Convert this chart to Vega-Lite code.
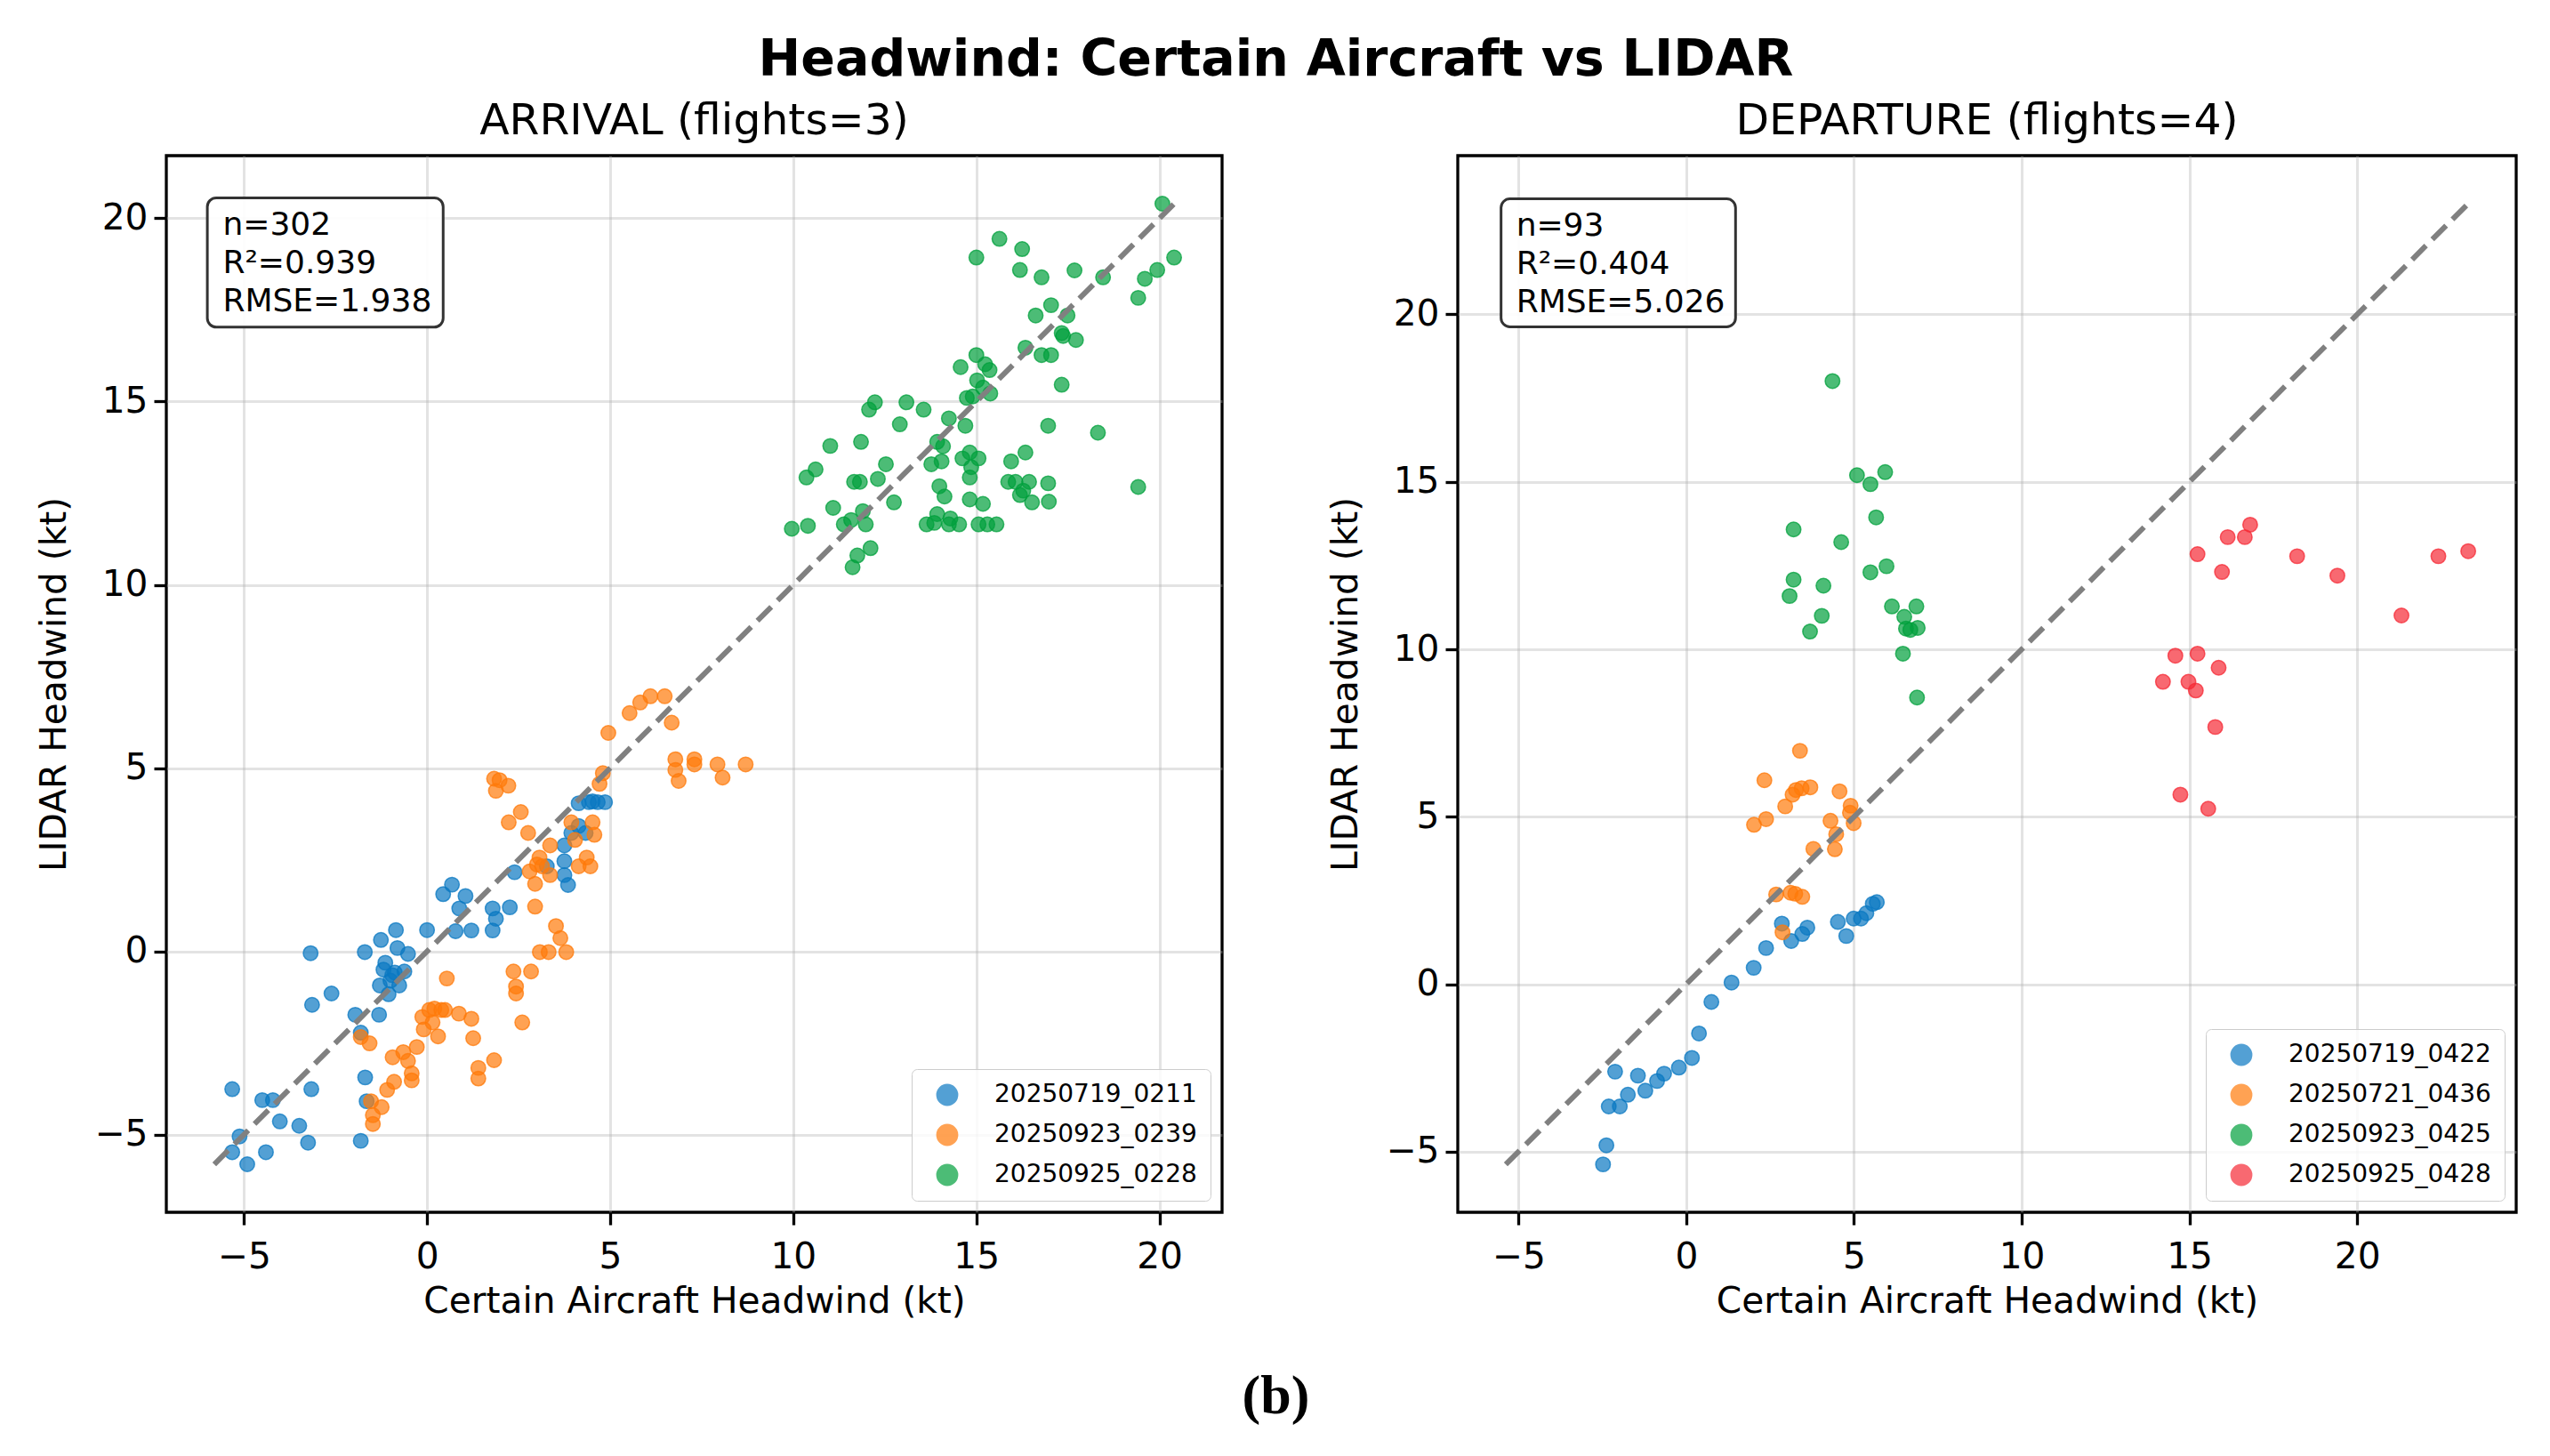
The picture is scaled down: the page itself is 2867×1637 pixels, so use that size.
{
  "$schema": "https://vega.github.io/schema/vega-lite/v6.json",
  "background": "white",
  "padding": {"left": 38, "top": 38, "right": 0, "bottom": 0},
  "config": {
    "font": "DejaVu Sans",
    "view": {"stroke": "black", "strokeWidth": 3.3},
    "axis": {"domain": false, "grid": true, "gridColor": "#b0b0b0", "gridOpacity": 0.35, "gridWidth": 3, "tickColor": "black", "tickSize": 14, "tickWidth": 3.3, "labelFontSize": 40.7, "labelColor": "black", "titleFontSize": 40.7, "titleFontWeight": "normal", "titleColor": "black", "labelFlush": false, "labelOverlap": false},
    "axisX": {"labelPadding": 16, "titlePadding": 11},
    "axisY": {"labelPadding": 7, "titlePadding": 24},
    "title": {"fontSize": 48.8, "fontWeight": "normal", "color": "black", "offset": 14},
    "legend": {"labelLimit": 0}
  },
  "datasets": {
    "arrival": [
      {"flight": "20250719_0211", "ac": -5.32, "lidar": -3.76},
      {"flight": "20250719_0211", "ac": -4.5, "lidar": -4.06},
      {"flight": "20250719_0211", "ac": -4.21, "lidar": -4.06},
      {"flight": "20250719_0211", "ac": -3.16, "lidar": -3.76},
      {"flight": "20250719_0211", "ac": -4.02, "lidar": -4.64},
      {"flight": "20250719_0211", "ac": -3.49, "lidar": -4.76},
      {"flight": "20250719_0211", "ac": -3.25, "lidar": -5.22},
      {"flight": "20250719_0211", "ac": -5.12, "lidar": -5.05},
      {"flight": "20250719_0211", "ac": -5.32, "lidar": -5.48},
      {"flight": "20250719_0211", "ac": -4.4, "lidar": -5.48},
      {"flight": "20250719_0211", "ac": -4.91, "lidar": -5.81},
      {"flight": "20250719_0211", "ac": -1.81, "lidar": -5.17},
      {"flight": "20250719_0211", "ac": -1.69, "lidar": -3.44},
      {"flight": "20250719_0211", "ac": -1.65, "lidar": -4.09},
      {"flight": "20250719_0211", "ac": -3.18, "lidar": -0.05},
      {"flight": "20250719_0211", "ac": -3.14, "lidar": -1.46},
      {"flight": "20250719_0211", "ac": -2.61, "lidar": -1.15},
      {"flight": "20250719_0211", "ac": -1.96, "lidar": -1.73},
      {"flight": "20250719_0211", "ac": -1.81, "lidar": -2.22},
      {"flight": "20250719_0211", "ac": -1.31, "lidar": -1.73},
      {"flight": "20250719_0211", "ac": -1.7, "lidar": -0.02},
      {"flight": "20250719_0211", "ac": -1.26, "lidar": 0.31},
      {"flight": "20250719_0211", "ac": -0.85, "lidar": 0.58},
      {"flight": "20250719_0211", "ac": -0.81, "lidar": 0.09},
      {"flight": "20250719_0211", "ac": -0.52, "lidar": -0.07},
      {"flight": "20250719_0211", "ac": -1.14, "lidar": -0.31},
      {"flight": "20250719_0211", "ac": -1.19, "lidar": -0.5},
      {"flight": "20250719_0211", "ac": -1.29, "lidar": -0.93},
      {"flight": "20250719_0211", "ac": -1.05, "lidar": -1.17},
      {"flight": "20250719_0211", "ac": -0.76, "lidar": -0.93},
      {"flight": "20250719_0211", "ac": -0.62, "lidar": -0.55},
      {"flight": "20250719_0211", "ac": -0.95, "lidar": -0.65},
      {"flight": "20250719_0211", "ac": -1.0, "lidar": -0.8},
      {"flight": "20250719_0211", "ac": -0.88, "lidar": -0.58},
      {"flight": "20250719_0211", "ac": 0.0, "lidar": 0.58},
      {"flight": "20250719_0211", "ac": 0.44, "lidar": 1.56},
      {"flight": "20250719_0211", "ac": 0.68, "lidar": 1.82},
      {"flight": "20250719_0211", "ac": 1.05, "lidar": 1.51},
      {"flight": "20250719_0211", "ac": 0.88, "lidar": 1.17},
      {"flight": "20250719_0211", "ac": 0.78, "lidar": 0.55},
      {"flight": "20250719_0211", "ac": 1.21, "lidar": 0.57},
      {"flight": "20250719_0211", "ac": 1.79, "lidar": 1.17},
      {"flight": "20250719_0211", "ac": 1.88, "lidar": 0.89},
      {"flight": "20250719_0211", "ac": 1.79, "lidar": 0.57},
      {"flight": "20250719_0211", "ac": 2.26, "lidar": 1.2},
      {"flight": "20250719_0211", "ac": 2.39, "lidar": 2.16},
      {"flight": "20250719_0211", "ac": 3.27, "lidar": 2.32},
      {"flight": "20250719_0211", "ac": 3.75, "lidar": 2.46},
      {"flight": "20250719_0211", "ac": 3.75, "lidar": 2.08},
      {"flight": "20250719_0211", "ac": 3.85, "lidar": 1.81},
      {"flight": "20250719_0211", "ac": 3.75, "lidar": 2.89},
      {"flight": "20250719_0211", "ac": 3.94, "lidar": 3.23},
      {"flight": "20250719_0211", "ac": 4.14, "lidar": 3.42},
      {"flight": "20250719_0211", "ac": 4.33, "lidar": 3.23},
      {"flight": "20250719_0211", "ac": 4.14, "lidar": 4.04},
      {"flight": "20250719_0211", "ac": 4.42, "lidar": 4.07},
      {"flight": "20250719_0211", "ac": 4.66, "lidar": 4.07},
      {"flight": "20250719_0211", "ac": 4.86, "lidar": 4.07},
      {"flight": "20250719_0211", "ac": 4.52, "lidar": 4.09},
      {"flight": "20250923_0239", "ac": -1.81, "lidar": -2.34},
      {"flight": "20250923_0239", "ac": -1.57, "lidar": -2.51},
      {"flight": "20250923_0239", "ac": -1.53, "lidar": -4.09},
      {"flight": "20250923_0239", "ac": -1.24, "lidar": -4.25},
      {"flight": "20250923_0239", "ac": -1.48, "lidar": -4.47},
      {"flight": "20250923_0239", "ac": -1.48, "lidar": -4.71},
      {"flight": "20250923_0239", "ac": -1.09, "lidar": -3.78},
      {"flight": "20250923_0239", "ac": -0.9, "lidar": -3.56},
      {"flight": "20250923_0239", "ac": -0.94, "lidar": -2.89},
      {"flight": "20250923_0239", "ac": -0.65, "lidar": -2.75},
      {"flight": "20250923_0239", "ac": -0.52, "lidar": -2.99},
      {"flight": "20250923_0239", "ac": -0.42, "lidar": -3.33},
      {"flight": "20250923_0239", "ac": -0.42, "lidar": -3.52},
      {"flight": "20250923_0239", "ac": -0.28, "lidar": -2.61},
      {"flight": "20250923_0239", "ac": -0.13, "lidar": -1.79},
      {"flight": "20250923_0239", "ac": 0.06, "lidar": -1.6},
      {"flight": "20250923_0239", "ac": 0.2, "lidar": -1.56},
      {"flight": "20250923_0239", "ac": 0.39, "lidar": -1.6},
      {"flight": "20250923_0239", "ac": 0.49, "lidar": -1.6},
      {"flight": "20250923_0239", "ac": 0.15, "lidar": -1.94},
      {"flight": "20250923_0239", "ac": 0.3, "lidar": -2.32},
      {"flight": "20250923_0239", "ac": -0.09, "lidar": -2.13},
      {"flight": "20250923_0239", "ac": 0.87, "lidar": -1.7},
      {"flight": "20250923_0239", "ac": 1.21, "lidar": -1.84},
      {"flight": "20250923_0239", "ac": 1.26, "lidar": -2.37},
      {"flight": "20250923_0239", "ac": 1.4, "lidar": -3.18},
      {"flight": "20250923_0239", "ac": 1.4, "lidar": -3.47},
      {"flight": "20250923_0239", "ac": 1.83, "lidar": -2.97},
      {"flight": "20250923_0239", "ac": 0.54, "lidar": -0.74},
      {"flight": "20250923_0239", "ac": 2.36, "lidar": -0.55},
      {"flight": "20250923_0239", "ac": 2.84, "lidar": -0.55},
      {"flight": "20250923_0239", "ac": 2.43, "lidar": -0.96},
      {"flight": "20250923_0239", "ac": 2.43, "lidar": -1.15},
      {"flight": "20250923_0239", "ac": 2.6, "lidar": -1.94},
      {"flight": "20250923_0239", "ac": 3.08, "lidar": -0.02},
      {"flight": "20250923_0239", "ac": 3.32, "lidar": -0.02},
      {"flight": "20250923_0239", "ac": 3.8, "lidar": -0.02},
      {"flight": "20250923_0239", "ac": 3.64, "lidar": 0.36},
      {"flight": "20250923_0239", "ac": 3.52, "lidar": 0.69},
      {"flight": "20250923_0239", "ac": 2.95, "lidar": 1.22},
      {"flight": "20250923_0239", "ac": 2.95, "lidar": 1.84},
      {"flight": "20250923_0239", "ac": 2.8, "lidar": 2.18},
      {"flight": "20250923_0239", "ac": 3.0, "lidar": 2.37},
      {"flight": "20250923_0239", "ac": 3.07, "lidar": 2.56},
      {"flight": "20250923_0239", "ac": 3.36, "lidar": 2.08},
      {"flight": "20250923_0239", "ac": 3.14, "lidar": 2.32},
      {"flight": "20250923_0239", "ac": 2.76, "lidar": 3.23},
      {"flight": "20250923_0239", "ac": 2.23, "lidar": 3.52},
      {"flight": "20250923_0239", "ac": 2.56, "lidar": 3.8},
      {"flight": "20250923_0239", "ac": 1.83, "lidar": 4.71},
      {"flight": "20250923_0239", "ac": 1.98, "lidar": 4.67},
      {"flight": "20250923_0239", "ac": 1.88, "lidar": 4.38},
      {"flight": "20250923_0239", "ac": 2.22, "lidar": 4.52},
      {"flight": "20250923_0239", "ac": 3.36, "lidar": 2.89},
      {"flight": "20250923_0239", "ac": 3.94, "lidar": 3.52},
      {"flight": "20250923_0239", "ac": 4.04, "lidar": 3.04},
      {"flight": "20250923_0239", "ac": 4.52, "lidar": 3.52},
      {"flight": "20250923_0239", "ac": 4.57, "lidar": 3.18},
      {"flight": "20250923_0239", "ac": 4.36, "lidar": 2.56},
      {"flight": "20250923_0239", "ac": 4.46, "lidar": 2.32},
      {"flight": "20250923_0239", "ac": 4.14, "lidar": 2.32},
      {"flight": "20250923_0239", "ac": 4.71, "lidar": 4.57},
      {"flight": "20250923_0239", "ac": 4.8, "lidar": 4.86},
      {"flight": "20250923_0239", "ac": 4.95, "lidar": 5.96},
      {"flight": "20250923_0239", "ac": 5.53, "lidar": 6.5},
      {"flight": "20250923_0239", "ac": 5.82, "lidar": 6.79},
      {"flight": "20250923_0239", "ac": 6.1, "lidar": 6.96},
      {"flight": "20250923_0239", "ac": 6.49, "lidar": 6.96},
      {"flight": "20250923_0239", "ac": 6.68, "lidar": 6.24},
      {"flight": "20250923_0239", "ac": 6.78, "lidar": 5.24},
      {"flight": "20250923_0239", "ac": 6.78, "lidar": 4.95},
      {"flight": "20250923_0239", "ac": 6.87, "lidar": 4.65},
      {"flight": "20250923_0239", "ac": 7.3, "lidar": 5.24},
      {"flight": "20250923_0239", "ac": 7.3, "lidar": 5.1},
      {"flight": "20250923_0239", "ac": 7.93, "lidar": 5.1},
      {"flight": "20250923_0239", "ac": 8.07, "lidar": 4.74},
      {"flight": "20250923_0239", "ac": 8.7, "lidar": 5.1},
      {"flight": "20250925_0228", "ac": 20.08, "lidar": 20.4},
      {"flight": "20250925_0228", "ac": 15.63, "lidar": 19.44},
      {"flight": "20250925_0228", "ac": 16.25, "lidar": 19.16},
      {"flight": "20250925_0228", "ac": 15.0, "lidar": 18.93},
      {"flight": "20250925_0228", "ac": 16.19, "lidar": 18.59},
      {"flight": "20250925_0228", "ac": 16.78, "lidar": 18.39},
      {"flight": "20250925_0228", "ac": 17.68, "lidar": 18.58},
      {"flight": "20250925_0228", "ac": 18.46, "lidar": 18.39},
      {"flight": "20250925_0228", "ac": 20.4, "lidar": 18.93},
      {"flight": "20250925_0228", "ac": 19.94, "lidar": 18.59},
      {"flight": "20250925_0228", "ac": 19.6, "lidar": 18.35},
      {"flight": "20250925_0228", "ac": 19.42, "lidar": 17.83},
      {"flight": "20250925_0228", "ac": 17.04, "lidar": 17.63},
      {"flight": "20250925_0228", "ac": 16.62, "lidar": 17.35},
      {"flight": "20250925_0228", "ac": 17.49, "lidar": 17.35},
      {"flight": "20250925_0228", "ac": 17.33, "lidar": 16.87},
      {"flight": "20250925_0228", "ac": 17.37, "lidar": 16.79},
      {"flight": "20250925_0228", "ac": 17.72, "lidar": 16.68},
      {"flight": "20250925_0228", "ac": 16.34, "lidar": 16.47},
      {"flight": "20250925_0228", "ac": 16.78, "lidar": 16.27},
      {"flight": "20250925_0228", "ac": 17.04, "lidar": 16.27},
      {"flight": "20250925_0228", "ac": 17.33, "lidar": 15.46},
      {"flight": "20250925_0228", "ac": 15.0, "lidar": 16.27},
      {"flight": "20250925_0228", "ac": 14.57, "lidar": 15.94},
      {"flight": "20250925_0228", "ac": 15.24, "lidar": 16.02},
      {"flight": "20250925_0228", "ac": 15.36, "lidar": 15.86},
      {"flight": "20250925_0228", "ac": 15.02, "lidar": 15.58},
      {"flight": "20250925_0228", "ac": 15.18, "lidar": 15.38},
      {"flight": "20250925_0228", "ac": 15.38, "lidar": 15.22},
      {"flight": "20250925_0228", "ac": 14.74, "lidar": 15.1},
      {"flight": "20250925_0228", "ac": 14.9, "lidar": 15.14},
      {"flight": "20250925_0228", "ac": 12.23, "lidar": 14.98},
      {"flight": "20250925_0228", "ac": 12.07, "lidar": 14.78},
      {"flight": "20250925_0228", "ac": 13.09, "lidar": 14.98},
      {"flight": "20250925_0228", "ac": 13.56, "lidar": 14.78},
      {"flight": "20250925_0228", "ac": 12.91, "lidar": 14.38},
      {"flight": "20250925_0228", "ac": 14.25, "lidar": 14.54},
      {"flight": "20250925_0228", "ac": 14.7, "lidar": 14.34},
      {"flight": "20250925_0228", "ac": 16.96, "lidar": 14.34},
      {"flight": "20250925_0228", "ac": 18.32, "lidar": 14.15},
      {"flight": "20250925_0228", "ac": 11.01, "lidar": 13.79},
      {"flight": "20250925_0228", "ac": 11.85, "lidar": 13.9},
      {"flight": "20250925_0228", "ac": 13.93, "lidar": 13.9},
      {"flight": "20250925_0228", "ac": 14.09, "lidar": 13.78},
      {"flight": "20250925_0228", "ac": 14.05, "lidar": 13.37},
      {"flight": "20250925_0228", "ac": 10.61, "lidar": 13.15},
      {"flight": "20250925_0228", "ac": 10.36, "lidar": 12.93},
      {"flight": "20250925_0228", "ac": 12.53, "lidar": 13.29},
      {"flight": "20250925_0228", "ac": 12.31, "lidar": 12.89},
      {"flight": "20250925_0228", "ac": 11.66, "lidar": 12.81},
      {"flight": "20250925_0228", "ac": 11.82, "lidar": 12.81},
      {"flight": "20250925_0228", "ac": 13.77, "lidar": 13.29},
      {"flight": "20250925_0228", "ac": 14.62, "lidar": 13.45},
      {"flight": "20250925_0228", "ac": 14.82, "lidar": 13.61},
      {"flight": "20250925_0228", "ac": 15.06, "lidar": 13.45},
      {"flight": "20250925_0228", "ac": 14.86, "lidar": 13.21},
      {"flight": "20250925_0228", "ac": 14.82, "lidar": 12.93},
      {"flight": "20250925_0228", "ac": 15.95, "lidar": 13.37},
      {"flight": "20250925_0228", "ac": 16.34, "lidar": 13.61},
      {"flight": "20250925_0228", "ac": 15.87, "lidar": 12.81},
      {"flight": "20250925_0228", "ac": 16.07, "lidar": 12.81},
      {"flight": "20250925_0228", "ac": 16.44, "lidar": 12.81},
      {"flight": "20250925_0228", "ac": 16.28, "lidar": 12.57},
      {"flight": "20250925_0228", "ac": 16.19, "lidar": 12.45},
      {"flight": "20250925_0228", "ac": 16.96, "lidar": 12.77},
      {"flight": "20250925_0228", "ac": 16.52, "lidar": 12.25},
      {"flight": "20250925_0228", "ac": 16.98, "lidar": 12.27},
      {"flight": "20250925_0228", "ac": 19.42, "lidar": 12.67},
      {"flight": "20250925_0228", "ac": 13.99, "lidar": 12.69},
      {"flight": "20250925_0228", "ac": 14.13, "lidar": 12.41},
      {"flight": "20250925_0228", "ac": 14.82, "lidar": 12.33},
      {"flight": "20250925_0228", "ac": 15.18, "lidar": 12.21},
      {"flight": "20250925_0228", "ac": 12.75, "lidar": 12.25},
      {"flight": "20250925_0228", "ac": 11.09, "lidar": 12.1},
      {"flight": "20250925_0228", "ac": 11.38, "lidar": 11.65},
      {"flight": "20250925_0228", "ac": 11.58, "lidar": 11.77},
      {"flight": "20250925_0228", "ac": 11.9, "lidar": 12.01},
      {"flight": "20250925_0228", "ac": 11.98, "lidar": 11.65},
      {"flight": "20250925_0228", "ac": 9.96, "lidar": 11.53},
      {"flight": "20250925_0228", "ac": 10.4, "lidar": 11.61},
      {"flight": "20250925_0228", "ac": 13.64, "lidar": 11.65},
      {"flight": "20250925_0228", "ac": 13.93, "lidar": 11.93},
      {"flight": "20250925_0228", "ac": 13.85, "lidar": 11.69},
      {"flight": "20250925_0228", "ac": 14.29, "lidar": 11.81},
      {"flight": "20250925_0228", "ac": 14.25, "lidar": 11.65},
      {"flight": "20250925_0228", "ac": 14.53, "lidar": 11.65},
      {"flight": "20250925_0228", "ac": 15.06, "lidar": 11.65},
      {"flight": "20250925_0228", "ac": 15.3, "lidar": 11.65},
      {"flight": "20250925_0228", "ac": 15.55, "lidar": 11.65},
      {"flight": "20250925_0228", "ac": 12.11, "lidar": 11.0},
      {"flight": "20250925_0228", "ac": 11.75, "lidar": 10.8},
      {"flight": "20250925_0228", "ac": 11.62, "lidar": 10.48}
    ],
    "arrival_ref": [{"v": -5.81}, {"v": 20.4}],
    "departure": [
      {"flight": "20250719_0422", "ac": 5.68, "lidar": 2.45},
      {"flight": "20250719_0422", "ac": 5.56, "lidar": 2.4},
      {"flight": "20250719_0422", "ac": 5.37, "lidar": 2.12},
      {"flight": "20250719_0422", "ac": 5.21, "lidar": 1.96},
      {"flight": "20250719_0422", "ac": 4.99, "lidar": 1.96},
      {"flight": "20250719_0422", "ac": 4.52, "lidar": 1.86},
      {"flight": "20250719_0422", "ac": 4.77, "lidar": 1.44},
      {"flight": "20250719_0422", "ac": 2.85, "lidar": 1.81},
      {"flight": "20250719_0422", "ac": 3.61, "lidar": 1.69},
      {"flight": "20250719_0422", "ac": 3.46, "lidar": 1.5},
      {"flight": "20250719_0422", "ac": 3.13, "lidar": 1.29},
      {"flight": "20250719_0422", "ac": 2.38, "lidar": 1.08},
      {"flight": "20250719_0422", "ac": 2.01, "lidar": 0.49},
      {"flight": "20250719_0422", "ac": 1.35, "lidar": 0.05},
      {"flight": "20250719_0422", "ac": 0.75, "lidar": -0.53},
      {"flight": "20250719_0422", "ac": 0.38, "lidar": -1.47},
      {"flight": "20250719_0422", "ac": 0.17, "lidar": -2.2},
      {"flight": "20250719_0422", "ac": -0.22, "lidar": -2.49},
      {"flight": "20250719_0422", "ac": -0.66, "lidar": -2.67},
      {"flight": "20250719_0422", "ac": -0.87, "lidar": -2.89},
      {"flight": "20250719_0422", "ac": -1.22, "lidar": -3.18},
      {"flight": "20250719_0422", "ac": -1.44, "lidar": -2.73},
      {"flight": "20250719_0422", "ac": -1.74, "lidar": -3.3},
      {"flight": "20250719_0422", "ac": -1.98, "lidar": -3.65},
      {"flight": "20250719_0422", "ac": -2.31, "lidar": -3.65},
      {"flight": "20250719_0422", "ac": -2.12, "lidar": -2.61},
      {"flight": "20250719_0422", "ac": -2.38, "lidar": -4.81},
      {"flight": "20250719_0422", "ac": -2.48, "lidar": -5.38},
      {"flight": "20250721_0436", "ac": 3.39, "lidar": 6.97},
      {"flight": "20250721_0436", "ac": 2.33, "lidar": 6.09},
      {"flight": "20250721_0436", "ac": 3.27, "lidar": 5.8},
      {"flight": "20250721_0436", "ac": 3.44, "lidar": 5.85},
      {"flight": "20250721_0436", "ac": 3.7, "lidar": 5.88},
      {"flight": "20250721_0436", "ac": 3.17, "lidar": 5.66},
      {"flight": "20250721_0436", "ac": 2.95, "lidar": 5.31},
      {"flight": "20250721_0436", "ac": 2.38, "lidar": 4.93},
      {"flight": "20250721_0436", "ac": 2.02, "lidar": 4.76},
      {"flight": "20250721_0436", "ac": 4.57, "lidar": 5.76},
      {"flight": "20250721_0436", "ac": 4.9, "lidar": 5.33},
      {"flight": "20250721_0436", "ac": 4.88, "lidar": 5.12},
      {"flight": "20250721_0436", "ac": 4.3, "lidar": 4.88},
      {"flight": "20250721_0436", "ac": 4.99, "lidar": 4.81},
      {"flight": "20250721_0436", "ac": 4.47, "lidar": 4.48},
      {"flight": "20250721_0436", "ac": 4.43, "lidar": 4.03},
      {"flight": "20250721_0436", "ac": 3.79, "lidar": 4.04},
      {"flight": "20250721_0436", "ac": 2.68, "lidar": 2.68},
      {"flight": "20250721_0436", "ac": 3.11, "lidar": 2.73},
      {"flight": "20250721_0436", "ac": 3.25, "lidar": 2.7},
      {"flight": "20250721_0436", "ac": 3.46, "lidar": 2.61},
      {"flight": "20250721_0436", "ac": 2.87, "lidar": 1.55},
      {"flight": "20250923_0425", "ac": 4.36, "lidar": 18.01},
      {"flight": "20250923_0425", "ac": 5.09, "lidar": 15.2},
      {"flight": "20250923_0425", "ac": 5.49, "lidar": 14.93},
      {"flight": "20250923_0425", "ac": 5.93, "lidar": 15.29},
      {"flight": "20250923_0425", "ac": 5.66, "lidar": 13.94},
      {"flight": "20250923_0425", "ac": 3.2, "lidar": 13.58},
      {"flight": "20250923_0425", "ac": 4.62, "lidar": 13.2},
      {"flight": "20250923_0425", "ac": 5.49, "lidar": 12.3},
      {"flight": "20250923_0425", "ac": 5.97, "lidar": 12.48},
      {"flight": "20250923_0425", "ac": 3.2, "lidar": 12.08},
      {"flight": "20250923_0425", "ac": 3.08, "lidar": 11.59},
      {"flight": "20250923_0425", "ac": 4.09, "lidar": 11.9},
      {"flight": "20250923_0425", "ac": 4.04, "lidar": 11.0},
      {"flight": "20250923_0425", "ac": 3.69, "lidar": 10.53},
      {"flight": "20250923_0425", "ac": 6.13, "lidar": 11.28},
      {"flight": "20250923_0425", "ac": 6.86, "lidar": 11.28},
      {"flight": "20250923_0425", "ac": 6.5, "lidar": 10.97},
      {"flight": "20250923_0425", "ac": 6.55, "lidar": 10.62},
      {"flight": "20250923_0425", "ac": 6.68, "lidar": 10.58},
      {"flight": "20250923_0425", "ac": 6.9, "lidar": 10.64},
      {"flight": "20250923_0425", "ac": 6.46, "lidar": 9.87},
      {"flight": "20250923_0425", "ac": 6.88, "lidar": 8.56},
      {"flight": "20250925_0428", "ac": 16.81, "lidar": 13.72},
      {"flight": "20250925_0428", "ac": 16.14, "lidar": 13.35},
      {"flight": "20250925_0428", "ac": 16.65, "lidar": 13.35},
      {"flight": "20250925_0428", "ac": 15.24, "lidar": 12.84},
      {"flight": "20250925_0428", "ac": 15.97, "lidar": 12.31},
      {"flight": "20250925_0428", "ac": 18.21, "lidar": 12.78},
      {"flight": "20250925_0428", "ac": 19.41, "lidar": 12.2},
      {"flight": "20250925_0428", "ac": 21.32, "lidar": 11.01},
      {"flight": "20250925_0428", "ac": 22.42, "lidar": 12.78},
      {"flight": "20250925_0428", "ac": 23.31, "lidar": 12.93},
      {"flight": "20250925_0428", "ac": 14.58, "lidar": 9.81},
      {"flight": "20250925_0428", "ac": 15.24, "lidar": 9.87},
      {"flight": "20250925_0428", "ac": 15.87, "lidar": 9.45},
      {"flight": "20250925_0428", "ac": 14.21, "lidar": 9.03},
      {"flight": "20250925_0428", "ac": 14.97, "lidar": 9.03},
      {"flight": "20250925_0428", "ac": 15.19, "lidar": 8.77},
      {"flight": "20250925_0428", "ac": 15.77, "lidar": 7.68},
      {"flight": "20250925_0428", "ac": 14.73, "lidar": 5.66},
      {"flight": "20250925_0428", "ac": 15.56, "lidar": 5.24}
    ],
    "departure_ref": [{"v": -5.38}, {"v": 23.31}]
  },
  "title": {"text": "(b)", "orient": "bottom", "anchor": "middle", "font": "Liberation Serif", "fontSize": 62, "fontWeight": "bold", "color": "black", "offset": 55},
  "vconcat": [
    {
      "title": {"text": "Headwind: Certain Aircraft vs LIDAR", "anchor": "middle", "fontSize": 57, "fontWeight": "bold", "color": "black", "offset": 14},
      "spacing": 114,
      "resolve": {"scale": {"color": "independent", "stroke": "independent", "x": "independent", "y": "independent"}, "legend": {"color": "independent"}},
      "hconcat": [
        {
          "width": 1187,
          "height": 1188,
          "title": {"text": "ARRIVAL (flights=3)", "anchor": "middle"},
          "layer": [
            {
              "data": {"name": "arrival"},
              "mark": {"type": "circle", "size": 270, "fillOpacity": 0.7, "strokeOpacity": 0.75, "strokeWidth": 1.5},
              "encoding": {
                "x": {"field": "ac", "type": "quantitative", "title": "Certain Aircraft Headwind (kt)", "scale": {"domain": [-7.12, 21.71], "nice": false, "zero": false}, "axis": {"values": [-5, 0, 5, 10, 15, 20]}},
                "y": {"field": "lidar", "type": "quantitative", "title": "LIDAR Headwind (kt)", "scale": {"domain": [-7.12, 21.71], "nice": false, "zero": false}, "axis": {"values": [-5, 0, 5, 10, 15, 20]}},
                "color": {"field": "flight", "type": "nominal", "scale": {"domain": ["20250719_0211", "20250923_0239", "20250925_0228"], "range": ["#0a78c2", "#ff7a0a", "#00a03c"]},
                  "legend": {"title": null, "orient": "bottom-right", "offset": 13, "padding": 15, "strokeColor": "#cccccc", "fillColor": "rgba(255,255,255,0.8)", "cornerRadius": 6, "symbolType": "circle", "symbolSize": 616, "symbolOpacity": 0.7, "symbolStrokeWidth": 0, "labelFontSize": 28, "labelColor": "black", "labelOffset": 39, "labelLimit": 0, "rowPadding": 17, "symbolOffset": 11}},
                "stroke": {"field": "flight", "type": "nominal", "scale": {"domain": ["20250719_0211", "20250923_0239", "20250925_0228"], "range": ["#0a78c2", "#ff7a0a", "#00a03c"]}, "legend": null}
              }
            },
            {
              "data": {"name": "arrival_ref"},
              "mark": {"type": "line", "color": "#808080", "strokeWidth": 6, "strokeDash": [22, 10]},
              "encoding": {
                "x": {"field": "v", "type": "quantitative", "title": "Certain Aircraft Headwind (kt)", "axis": {"values": [-5, 0, 5, 10, 15, 20]}},
                "y": {"field": "v", "type": "quantitative", "title": "LIDAR Headwind (kt)", "axis": {"values": [-5, 0, 5, 10, 15, 20]}}
              }
            },
            {
              "data": {"values": [{}]},
              "mark": {"type": "rect", "fill": "white", "fillOpacity": 0.9, "stroke": "#333333", "strokeWidth": 3, "cornerRadius": 10},
              "encoding": {
                "x": {"datum": -6.0, "type": "quantitative", "title": "Certain Aircraft Headwind (kt)", "axis": {"values": [-5, 0, 5, 10, 15, 20]}},
                "x2": {"datum": 0.44},
                "y": {"datum": 20.56, "type": "quantitative", "title": "LIDAR Headwind (kt)", "axis": {"values": [-5, 0, 5, 10, 15, 20]}},
                "y2": {"datum": 17.03}
              }
            },
            {
              "data": {"values": [{}]},
              "mark": {"type": "text", "text": ["n=302", "R²=0.939", "RMSE=1.938"], "align": "left", "baseline": "alphabetic", "fontSize": 36, "lineHeight": 43, "color": "black"},
              "encoding": {
                "x": {"datum": -5.58, "type": "quantitative", "title": "Certain Aircraft Headwind (kt)", "axis": {"values": [-5, 0, 5, 10, 15, 20]}},
                "y": {"datum": 19.54, "type": "quantitative", "title": "LIDAR Headwind (kt)", "axis": {"values": [-5, 0, 5, 10, 15, 20]}}
              }
            }
          ]
        },
        {
          "width": 1190,
          "height": 1188,
          "title": {"text": "DEPARTURE (flights=4)", "anchor": "middle"},
          "layer": [
            {
              "data": {"name": "departure"},
              "mark": {"type": "circle", "size": 270, "fillOpacity": 0.7, "strokeOpacity": 0.75, "strokeWidth": 1.5},
              "encoding": {
                "x": {"field": "ac", "type": "quantitative", "title": "Certain Aircraft Headwind (kt)", "scale": {"domain": [-6.81, 24.74], "nice": false, "zero": false}, "axis": {"values": [-5, 0, 5, 10, 15, 20]}},
                "y": {"field": "lidar", "type": "quantitative", "title": "LIDAR Headwind (kt)", "scale": {"domain": [-6.81, 24.74], "nice": false, "zero": false}, "axis": {"values": [-5, 0, 5, 10, 15, 20]}},
                "color": {"field": "flight", "type": "nominal", "scale": {"domain": ["20250719_0422", "20250721_0436", "20250923_0425", "20250925_0428"], "range": ["#0a78c2", "#ff7a0a", "#00a03c", "#f52a35"]},
                  "legend": {"title": null, "orient": "bottom-right", "offset": 13, "padding": 15, "strokeColor": "#cccccc", "fillColor": "rgba(255,255,255,0.8)", "cornerRadius": 6, "symbolType": "circle", "symbolSize": 616, "symbolOpacity": 0.7, "symbolStrokeWidth": 0, "labelFontSize": 28, "labelColor": "black", "labelOffset": 39, "labelLimit": 0, "rowPadding": 17, "symbolOffset": 11}},
                "stroke": {"field": "flight", "type": "nominal", "scale": {"domain": ["20250719_0422", "20250721_0436", "20250923_0425", "20250925_0428"], "range": ["#0a78c2", "#ff7a0a", "#00a03c", "#f52a35"]}, "legend": null}
              }
            },
            {
              "data": {"name": "departure_ref"},
              "mark": {"type": "line", "color": "#808080", "strokeWidth": 6, "strokeDash": [22, 10]},
              "encoding": {
                "x": {"field": "v", "type": "quantitative", "title": "Certain Aircraft Headwind (kt)", "axis": {"values": [-5, 0, 5, 10, 15, 20]}},
                "y": {"field": "v", "type": "quantitative", "title": "LIDAR Headwind (kt)", "axis": {"values": [-5, 0, 5, 10, 15, 20]}}
              }
            },
            {
              "data": {"values": [{}]},
              "mark": {"type": "rect", "fill": "white", "fillOpacity": 0.9, "stroke": "#333333", "strokeWidth": 3, "cornerRadius": 10},
              "encoding": {
                "x": {"datum": -5.52, "type": "quantitative", "title": "Certain Aircraft Headwind (kt)", "axis": {"values": [-5, 0, 5, 10, 15, 20]}},
                "x2": {"datum": 1.47},
                "y": {"datum": 23.45, "type": "quantitative", "title": "LIDAR Headwind (kt)", "axis": {"values": [-5, 0, 5, 10, 15, 20]}},
                "y2": {"datum": 19.63}
              }
            },
            {
              "data": {"values": [{}]},
              "mark": {"type": "text", "text": ["n=93", "R²=0.404", "RMSE=5.026"], "align": "left", "baseline": "alphabetic", "fontSize": 36, "lineHeight": 43, "color": "black"},
              "encoding": {
                "x": {"datum": -5.07, "type": "quantitative", "title": "Certain Aircraft Headwind (kt)", "axis": {"values": [-5, 0, 5, 10, 15, 20]}},
                "y": {"datum": 22.36, "type": "quantitative", "title": "LIDAR Headwind (kt)", "axis": {"values": [-5, 0, 5, 10, 15, 20]}}
              }
            }
          ]
        }
      ]
    }
  ]
}
